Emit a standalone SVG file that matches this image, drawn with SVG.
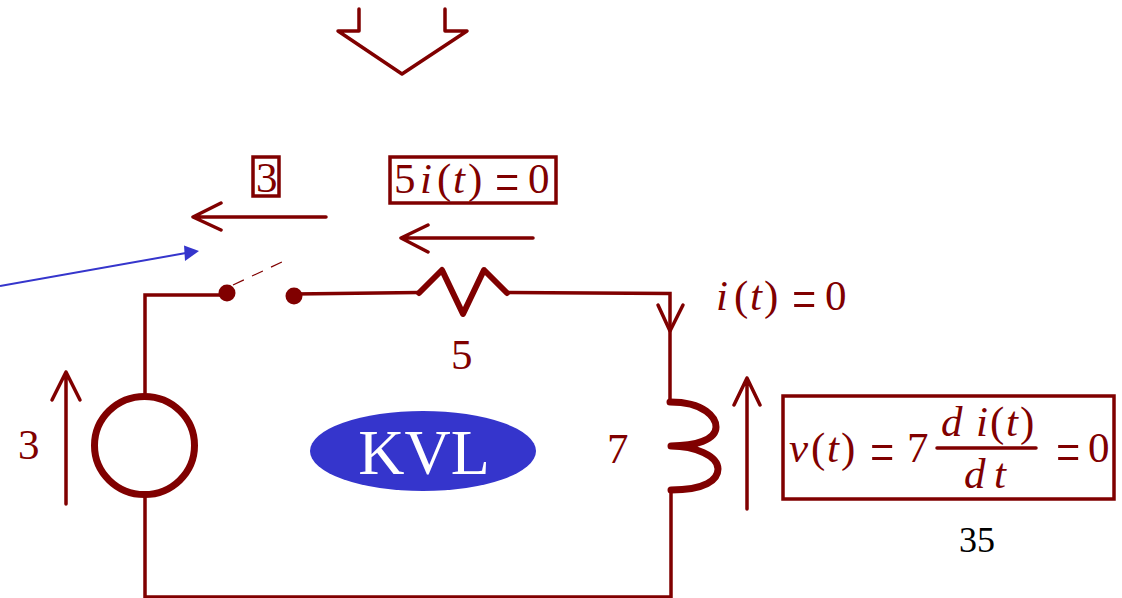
<svg xmlns="http://www.w3.org/2000/svg" width="1122" height="598" viewBox="0 0 1122 598">
<style>
.w{fill:none;stroke:#800000;stroke-width:3.500;stroke-linecap:round;stroke-linejoin:miter}
.a{fill:none;stroke:#800000;stroke-width:3.500;stroke-linecap:round;stroke-linejoin:round}
.h{fill:none;stroke:#800000;stroke-linecap:round;stroke-linejoin:round}
.b{fill:none;stroke:#800000;stroke-width:3.500}
text{font-family:"Liberation Serif",serif;fill:#800000}
.t{font-size:43px}
.i{font-style:italic}
</style>
<rect width="1122" height="598" fill="#fff"/>
<g id="connectors">
<path class="w" d="M145 393V295H222"/>
<path class="w" d="M145 495V597H671V490"/>
<path class="w" d="M294 294L419 292.500"/>
<path class="w" d="M506 292.500L670 293.500V402"/>
<path d="M233 285L282 262" fill="none" stroke="#800000" stroke-width="1.200" stroke-dasharray="12 9"/>
<path d="M0 286L186 253" fill="none" stroke="#3535cc" stroke-width="2"/>
<path d="M199 251L184 245.500L185 261Z" fill="#3535cc"/>
</g>
<g id="arrow-down"><path class="a" d="M359 9V31H338L402 74L467 31H445V9"/></g>
<g id="arrow-3"><path class="a" d="M326 217H193M221 203L193 217L221 230"/></g>
<g id="arrow-5"><path class="a" d="M533 238H401M428 225L401 238L428 252"/></g>
<g id="arrow-current"><path class="a" d="M658 305L670 331L683 305"/></g>
<g id="arrow-source"><path class="a" d="M66 504V372M52 400L66 372L80 400"/></g>
<g id="arrow-inductor"><path class="a" d="M747 509V378M734 405L747 378L760 405"/></g>
<g id="switch">
<circle cx="227" cy="293" r="8.500" fill="#800000"/>
<circle cx="294" cy="296" r="8.500" fill="#800000"/>
</g>
<g id="resistor"><path class="h" stroke-width="6" d="M419 293L442 270L463 314L484 270L507 293"/></g>
<g id="source"><ellipse cx="144.500" cy="445.500" rx="50" ry="49" fill="none" stroke="#800000" stroke-width="7"/></g>
<g id="inductor"><path class="h" stroke-width="7" d="M670 402C705 402 716 418 716 427C716 440 695 446 671 446C695 446 718 456 718 469C718 480 705 490 671 490"/></g>
<g id="kvl">
<ellipse cx="423" cy="451" rx="113" ry="40" fill="#3535cc"/>
<text x="424" y="474" font-size="64" text-anchor="middle" style="fill:#fff">KVL</text>
</g>
<g id="label-3-box"><rect class="b" x="253" y="157" width="26" height="39"/><text class="t" x="256" y="192">3</text></g>
<g id="label-5it"><rect class="b" x="390" y="157" width="166" height="46"/>
<text class="t" x="394" y="193">5</text><text class="t i" x="420" y="193">i</text><text class="t" x="437" y="193">(</text><text class="t i" x="453" y="193">t</text><text class="t" x="468" y="193">)</text><text class="t" transform="translate(495 202) scale(1 1.400)">=</text><text class="t" x="528" y="193">0</text></g>
<g id="label-it">
<text class="t i" x="716" y="310">i</text><text class="t" x="734" y="310">(</text><text class="t i" x="750" y="310">t</text><text class="t" x="764" y="310">)</text><text class="t" transform="translate(792 319) scale(1 1.400)">=</text><text class="t" x="825" y="310">0</text></g>
<text id="label-5" class="t" x="451" y="369">5</text>
<text id="label-3" class="t" x="18" y="459">3</text>
<text id="label-7" class="t" x="607" y="463">7</text>
<g id="label-vt"><rect class="b" x="783" y="396" width="331" height="103"/>
<text class="t i" x="789" y="462">v</text><text class="t" x="811" y="462">(</text><text class="t i" x="827" y="462">t</text><text class="t" x="841" y="462">)</text><text class="t" transform="translate(870 472) scale(1 1.400)">=</text><text class="t" x="907" y="462">7</text>
<text class="t i" x="941" y="436">d</text><text class="t i" x="976" y="436">i</text><text class="t" x="990" y="436">(</text><text class="t i" x="1006" y="436">t</text><text class="t" x="1020" y="436">)</text>
<path d="M937 448H1036" stroke="#800000" stroke-width="3.500" stroke-linecap="round"/>
<text class="t i" x="964" y="488">d</text><text class="t i" x="994" y="488">t</text>
<text class="t" transform="translate(1056 472) scale(1 1.400)">=</text><text class="t" x="1088" y="462">0</text></g>
<text id="page" x="959" y="552" font-size="36" style="fill:#000">35</text>
</svg>
